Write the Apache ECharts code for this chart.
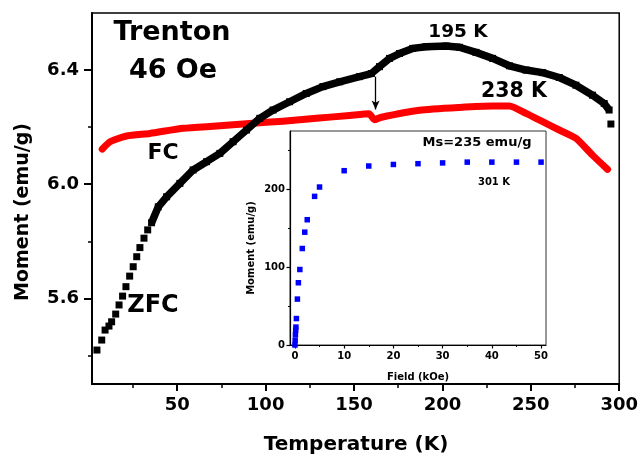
<!DOCTYPE html>
<html>
<head>
<meta charset="utf-8">
<script src="https://cdn.jsdelivr.net/npm/echarts@6/dist/echarts.min.js"></script>
<style>
    html, body { margin: 0; padding: 0; background: #fff; }
    #chart { width: 641px; height: 455px; }
</style>
</head>
<body>
<div id="chart"></div>
<script>
// ZFC: sparse low-temperature squares and the dense band above ~35 K
const zfcSparseTemp = [4.6, 7.3, 9.2, 11.4, 12.9, 15.2, 17.1, 19.1, 21.0, 23.1, 25.1, 27.1, 28.9, 31.2, 33.3, 295.3];
const zfcSparseMoment = [5.419, 5.454, 5.489, 5.503, 5.518, 5.545, 5.577, 5.608, 5.641, 5.678, 5.711, 5.746, 5.778, 5.811, 5.840, 6.211];
const zfcTemp = [35.5, 39.3, 44.0, 51.5, 59.0, 66.6, 74.1, 81.6, 89.2, 96.7, 104.2, 113.6, 123.0, 132.4, 141.9, 153.1, 159.8, 164.4, 170.1, 175.7, 183.2, 190.8, 202.1, 209.6, 219.0, 228.4, 237.9, 247.3, 256.7, 266.1, 275.5, 284.9, 291.5, 294.3];
const zfcMoment = [5.865, 5.921, 5.956, 6.003, 6.050, 6.079, 6.108, 6.149, 6.190, 6.231, 6.260, 6.289, 6.318, 6.342, 6.359, 6.377, 6.388, 6.412, 6.441, 6.458, 6.476, 6.482, 6.484, 6.480, 6.462, 6.441, 6.415, 6.400, 6.391, 6.374, 6.347, 6.312, 6.283, 6.260];

// FC curve
const fcTemp = [7.6, 12.0, 21.4, 34.6, 53.4, 72.2, 91.0, 109.8, 128.7, 147.5, 158.5, 161.6, 165.0, 187.0, 209.6, 228.4, 237.9, 247.3, 256.7, 266.1, 275.5, 284.9, 293.4];
const fcMoment = [6.123, 6.149, 6.169, 6.178, 6.196, 6.204, 6.213, 6.221, 6.231, 6.241, 6.247, 6.226, 6.234, 6.259, 6.269, 6.274, 6.274, 6.248, 6.219, 6.190, 6.161, 6.102, 6.052];

// inset: M(H) at 301 K
const field = [0, 0.05, 0.1, 0.15, 0.2, 0.3, 0.5, 0.7, 1.0, 1.5, 2.0, 2.5, 4, 5, 10, 15, 20, 25, 30, 35, 40, 45, 50];
const fieldMoment = [0, 6, 13, 19, 23, 34, 59, 80, 97, 124, 145, 161, 191, 203, 224, 230, 232, 233, 234, 235, 235, 235, 235];

// tick values
const mainXTicks = [50, 100, 150, 200, 250, 300];
const mainXMinor = [25, 75, 125, 175, 225, 275];
const mainYTicks = [5.6, 6.0, 6.4];
const mainYMinor = [5.4, 5.8, 6.2];
const insetXTicks = [0, 10, 20, 30, 40, 50];
const insetXMinor = [5, 15, 25, 35, 45];
const insetYTicks = [0, 100, 200];
const insetYMinor = [50, 150, 250];

const FONT = "DejaVu Sans";
const pairs = (xs, ys) => xs.map((x, i) => [x, ys[i]]);

// axis helpers
function majorAxis(gridIndex, min, max, ticks, position, opts) {
    return {
        type: "value", gridIndex, min, max, position,
        axisLine: { show: true, onZero: false, lineStyle: { color: "#000", width: opts.lineWidth } },
        axisTick: { show: true, customValues: ticks, length: opts.tickLen, lineStyle: { color: "#000", width: opts.lineWidth } },
        axisLabel: {
            show: true, customValues: ticks, margin: opts.margin, color: "#000",
            fontFamily: FONT, fontWeight: "bold", fontSize: opts.fontSize,
            formatter: opts.formatter
        },
        splitLine: { show: false }
    };
}
function minorAxis(gridIndex, min, max, ticks, position, len, width) {
    return {
        type: "value", gridIndex, min, max, position,
        axisLine: { show: false, onZero: false },
        axisTick: { show: true, customValues: ticks, length: len, lineStyle: { color: "#000", width } },
        axisLabel: { show: false },
        splitLine: { show: false }
    };
}
function text(str, x, y, size, extra) {
    return Object.assign({
        type: "text", x, y, z: 100,
        style: { text: str, fill: "#000", fontFamily: FONT, fontWeight: "bold", fontSize: size, align: "center", verticalAlign: "middle" }
    }, extra || {});
}

const chart = echarts.init(document.getElementById("chart"));
chart.setOption({
    animation: false,
    backgroundColor: "#fff",
    grid: [
        { left: 92, top: 13, right: 21, bottom: 71, show: true, borderColor: "#000", borderWidth: 1.5 },
        { left: 290, top: 131, right: 95, bottom: 110, show: true, backgroundColor: "#fff", borderColor: "#333", borderWidth: 1, z: 5 }
    ],
    xAxis: [
        majorAxis(0, 1.8, 300, mainXTicks, "bottom", { lineWidth: 2, tickLen: 7, margin: 12, fontSize: 18, formatter: v => String(v) }),
        minorAxis(0, 1.8, 300, mainXMinor, "bottom", 4, 1.5),
        Object.assign(majorAxis(1, -1, 51, insetXTicks, "bottom", { lineWidth: 1.2, tickLen: 3.5, margin: 6, fontSize: 10, formatter: v => String(v) }), { z: 6 }),
        Object.assign(minorAxis(1, -1, 51, insetXMinor, "bottom", 2, 1), { z: 6 })
    ],
    yAxis: [
        majorAxis(0, 5.3, 6.6, mainYTicks, "left", { lineWidth: 2, tickLen: 8, margin: 13, fontSize: 18, formatter: v => v.toFixed(1) }),
        minorAxis(0, 5.3, 6.6, mainYMinor, "left", 4, 1.5),
        Object.assign(majorAxis(1, 0, 275, insetYTicks, "left", { lineWidth: 1.2, tickLen: 3.5, margin: 5, fontSize: 10, formatter: v => String(v) }), { z: 6 }),
        Object.assign(minorAxis(1, 0, 275, insetYMinor, "left", 2, 1), { z: 6 })
    ],
    series: [
        {
            name: "FC", type: "line", xAxisIndex: 0, yAxisIndex: 0,
            data: pairs(fcTemp, fcMoment), showSymbol: false, smooth: 0.2,
            lineStyle: { color: "#ff0000", width: 7, cap: "round", join: "round" }
        },
        {
            name: "ZFC", type: "line", xAxisIndex: 0, yAxisIndex: 0,
            data: pairs(zfcTemp, zfcMoment), symbol: "rect", symbolSize: 7, showAllSymbol: true,
            itemStyle: { color: "#000", opacity: 1 },
            lineStyle: { color: "#000", width: 7.5 },
            markLine: {
                silent: true, symbol: ["none", "arrow"], symbolSize: [6, 9],
                label: { show: false },
                lineStyle: { color: "#000", width: 1.3, type: "solid" },
                data: [[{ coord: [162.2, 6.377] }, { coord: [162.2, 6.262] }]]
            }
        },
        {
            name: "ZFC low T", type: "scatter", xAxisIndex: 0, yAxisIndex: 0,
            data: pairs(zfcSparseTemp, zfcSparseMoment), symbol: "rect", symbolSize: 7,
            itemStyle: { color: "#000", opacity: 1 }
        },
        {
            name: "M(H)", type: "scatter", xAxisIndex: 2, yAxisIndex: 2, z: 7,
            data: pairs(field, fieldMoment), symbol: "rect", symbolSize: 5.5,
            itemStyle: { color: "#0000ff", opacity: 1 }
        }
    ],
    graphic: [
        text("Trenton", 172, 33, 27),
        text("46 Oe", 173, 71, 27),
        text("195 K", 458, 32, 18.5),
        text("238 K", 514, 92, 20.5),
        text("FC", 163, 153, 22),
        text("ZFC", 153, 306, 24),
        text("Ms=235 emu/g", 477, 143, 13),
        text("301 K", 494, 182, 10),
        text("Moment (emu/g)", 23, 212, 19, { rotation: Math.PI / 2 }),
        text("Temperature (K)", 356, 445, 20),
        text("Field (kOe)", 418, 377, 10),
        text("Moment (emu/g)", 251, 248, 10, { rotation: Math.PI / 2 })
    ]
});
</script>
</body>
</html>
